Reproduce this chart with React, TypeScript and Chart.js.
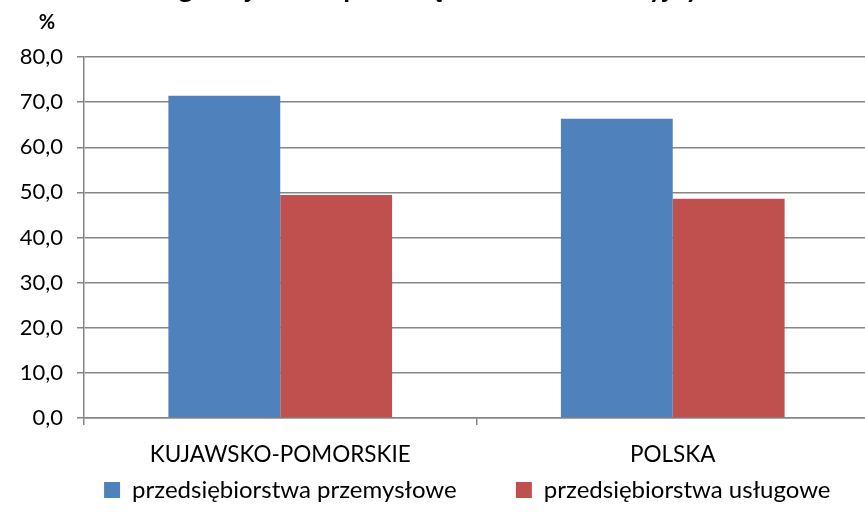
import React, { useEffect, useRef } from "react";
import { Chart, registerables } from "chart.js";

Chart.register(...registerables);

const categories = ["KUJAWSKO-POMORSKIE", "POLSKA"];
const seriesNames = ["przedsiębiorstwa przemysłowe", "przedsiębiorstwa usługowe"];
const przemyslowe = [71.4, 66.3];
const uslugowe = [49.4, 48.6];
const yTicks = [0, 10, 20, 30, 40, 50, 60, 70, 80];
const titleLines = [
  "Przedsiębiorstwa, które współpracowały w zakresie działalności innowacyjnej",
  "w ogólnej liczbie przedsiębiorstw innowacyjnych",
];
const unitLabel = "%";

const FONT = "Lato, 'Open Sans', sans-serif";
const NB = "\u00A0";

export default function App() {
  const ref = useRef<HTMLCanvasElement | null>(null);
  useEffect(() => {
    if (!ref.current) return;
    const extra = {
      id: "extraText",
      afterDraw(chart: any) {
        const ctx = chart.ctx;
        ctx.save();
        ctx.fillStyle = "#000";
        const line = titleLines[1];
        ctx.font = `bold 24px ${FONT}`;
        const m = (s: string) => ctx.measureText(s).width;
        const gC = m("w o") + m("g") / 2;
        const yC = m("w ogólnej liczbie przedsiębiorstw innowacyjn") + m("y") / 2;
        const size = (24 * 507) / (yC - gC);
        ctx.font = `bold ${size}px ${FONT}`;
        const x0 = 186 - (m("w o") + m("g") / 2);
        ctx.textAlign = "left";
        ctx.textBaseline = "alphabetic";
        ctx.fillText(line, x0, -2);
        const w1 = m(line);
        ctx.textAlign = "center";
        ctx.fillText(titleLines[0], x0 + w1 / 2, -2 - size * 1.2);
        ctx.font = `bold 20px ${FONT}`;
        ctx.textBaseline = "middle";
        ctx.fillText(unitLabel, 47, 23);
        ctx.restore();
      },
    };
    const chart = new Chart(ref.current, {
      type: "bar",
      data: {
        labels: categories,
        datasets: [
          { label: seriesNames[0], data: przemyslowe, backgroundColor: "#4F81BD", borderWidth: 0 },
          { label: seriesNames[1], data: uslugowe, backgroundColor: "#C0504D", borderWidth: 0 },
        ],
      },
      options: {
        animation: false,
        responsive: false,
        maintainAspectRatio: false,
        layout: { padding: { top: 57, right: 65, left: 0, bottom: 1 } },
        plugins: {
          legend: {
            position: "bottom",
            fullSize: false,
            labels: {
              boxWidth: 16,
              boxHeight: 16,
              padding: 10,
              color: "#000",
              font: { family: FONT, size: 24 },
              generateLabels: (chart: any) => {
                const items = Chart.defaults.plugins.legend.labels.generateLabels(chart);
                return items.map((it: any, i: number) => ({
                  ...it,
                  lineWidth: 0,
                  text: i === 0 ? it.text + NB.repeat(8) : it.text + NB.repeat(3),
                }));
              },
            },
          },
          tooltip: { enabled: false },
        },
        datasets: { bar: { categoryPercentage: 0.57, barPercentage: 1 } } as any,
        scales: {
          x: {
            offset: true,
            afterFit: (scale: any) => {
              scale.height = 50;
            },
            grid: {
              offset: true,
              drawOnChartArea: false,
              drawTicks: true,
              tickLength: 7,
              color: "#868686",
              lineWidth: 1.5,
            },
            border: { color: "#868686", width: 1.5 },
            ticks: { color: "#000", font: { family: FONT, size: 22.5 }, padding: 16 },
          },
          y: {
            min: 0,
            max: 80,
            afterBuildTicks: (scale: any) => {
              scale.ticks = yTicks.map((v) => ({ value: v }));
            },
            afterFit: (scale: any) => {
              scale.width = 84;
            },
            grid: { color: "#868686", lineWidth: 1.5, tickLength: 7 },
            border: { color: "#868686", width: 1.5 },
            ticks: {
              color: "#000",
              padding: 14,
              font: { family: FONT, size: 22 },
              callback: (v: any) => Number(v).toFixed(1).replace(".", ","),
            },
          },
        },
      },
      plugins: [extra],
    });
    return () => chart.destroy();
  }, []);
  return (
    <div style={{ position: "absolute", left: 0, top: 0, width: 865, height: 513, overflow: "hidden", background: "#fff" }}>
      <canvas ref={ref} width={934} height={513} style={{ display: "block" }} />
    </div>
  );
}
